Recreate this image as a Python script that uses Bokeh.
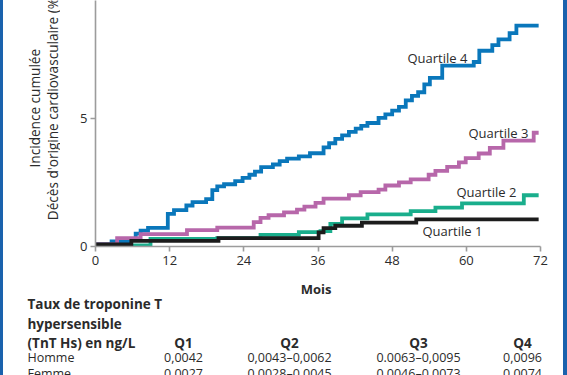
import math
from bokeh.plotting import figure
from bokeh.layouts import row, column
from bokeh.models import Label, Range1d, FixedTicker
from bokeh.core.properties import value
from bokeh.embed import file_html
from bokeh.resources import INLINE

# ---- data ----
months_q4 = [0, 2.6, 5.7, 6.5, 7.3, 8.5, 11.7, 12.7, 14.7, 15.7, 17.9, 18.9, 19.7, 20.8, 22.6,
             23.8, 24.9, 25.8, 26.8, 28.7, 29.8, 31.0, 32.9, 34.7, 36.9, 37.8, 38.8, 39.9, 41.0,
             42.1, 43.0, 44.0, 45.8, 46.9, 48.0, 49.1, 50.2, 51.2, 52.2, 53.2, 54.1, 56.1, 61.2,
             62.1, 64.2, 65.2, 67.0, 68.1]
risk_q4 = [0.08, 0.2, 0.3, 0.5, 0.62, 0.73, 1.27, 1.42, 1.6, 1.73, 1.85, 2.2, 2.35, 2.43, 2.55,
           2.68, 2.8, 2.92, 3.1, 3.2, 3.33, 3.43, 3.52, 3.64, 3.87, 4.03, 4.2, 4.34, 4.47,
           4.6, 4.71, 4.82, 5.02, 5.16, 5.3, 5.45, 5.7, 5.88, 6.02, 6.33, 6.58, 7.06, 7.2,
           7.64, 7.86, 8.08, 8.33, 8.62]

months_q3 = [0, 3.5, 7.3, 14.8, 19.7, 25.6, 26.7, 28.0, 30.5, 32.6, 33.8, 35.6, 36.9, 41.0,
             42.9, 45.8, 46.9, 49.1, 51.0, 53.9, 55.0, 56.9, 58.8, 59.9, 62.0, 63.8, 66.0, 70.9]
risk_q3 = [0.08, 0.33, 0.48, 0.64, 0.74, 0.95, 1.12, 1.22, 1.33, 1.44, 1.56, 1.7, 1.87, 2.0,
           2.12, 2.22, 2.38, 2.5, 2.62, 2.8, 2.95, 3.11, 3.28, 3.45, 3.63, 3.85, 4.13, 4.44]

months_q2 = [0, 8.9, 19.7, 26.7, 32.9, 36.4, 38.0, 39.9, 44.0, 51.0, 55.0, 59.3, 69.3]
risk_q2 = [0.04, 0.3, 0.33, 0.45, 0.56, 0.6, 0.88, 1.1, 1.25, 1.38, 1.52, 1.68, 2.0]

months_q1 = [0, 5.8, 19.9, 36.1, 36.9, 38.8, 43.1, 51.9]
risk_q1 = [0.08, 0.22, 0.33, 0.55, 0.72, 0.81, 0.93, 1.06]

END_MONTH = 71.7

x_ticks = [0, 12, 24, 36, 48, 60, 72]
y_ticks = [0, 5]

quartile_names = ["Quartile 4", "Quartile 3", "Quartile 2", "Quartile 1"]
y_title = ["Incidence cumulée", "Décès d'origine cardiovasculaire (%)"]
x_title = "Mois"

table_title = ["Taux de troponine T", "hypersensible", "(TnT Hs) en ng/L"]
table_headers = ["Q1", "Q2", "Q3", "Q4"]
row_labels = ["Homme", "Femme"]
homme_values = ["0,0042", "0,0043\u20130,0062", "0.0063\u20130,0095", "0,0096"]
femme_values = ["0,0027", "0,0028\u20130,0045", "0.0046\u20130,0073", "0,0074"]

# ---- styling / layout ----
FONT = "Open Sans"
TXT = "#2b2b2b"
AXC = "#9c9c9c"
EDGE = "#1a62ad"
colors = {"q4": "#0a77bb", "q3": "#b767aa", "q2": "#1aae8c", "q1": "#1c1c1c"}

W, H = 567, 375
LEFT_W = 60            # left strip holding the y title
TOP_H = 280            # height of chart row
FRAME_L, FRAME_R, FRAME_B = 95, 540, 246
Y_END = 9.6

# ---------- main chart ----------
p = figure(width=W - LEFT_W, height=TOP_H, output_backend="svg", toolbar_location=None,
           x_range=Range1d(0, 72), y_range=Range1d(0, Y_END),
           min_border_left=FRAME_L - LEFT_W, min_border_right=W - FRAME_R,
           min_border_top=0, min_border_bottom=TOP_H - FRAME_B)
p.outline_line_color = None
p.grid.visible = False
p.background_fill_color = "white"
p.border_fill_color = None
p.styles = {"background": "white", "box-shadow": f"inset -4px 0 0 {EDGE}"}

fw = FRAME_R - FRAME_L
fh = FRAME_B
def mx(px):
    return (px - FRAME_L) / fw * 72
def vy(py):
    return (fh - py) / fh * Y_END

for ax in (p.xaxis, p.yaxis):
    ax.axis_line_color = AXC
    ax.axis_line_width = 1.6
    ax.major_tick_line_color = AXC
    ax.major_tick_line_width = 1.6
    ax.major_tick_in = 0
    ax.major_tick_out = 5
    ax.minor_tick_line_color = None
    ax.major_label_text_font = FONT
    ax.major_label_text_font_size = "13px"
    ax.major_label_text_color = TXT
    ax.major_label_standoff = 3
p.xaxis.major_label_standoff = 4

p.xaxis.ticker = FixedTicker(ticks=x_ticks)
p.yaxis.ticker = FixedTicker(ticks=y_ticks)

series = [("q4", months_q4, risk_q4), ("q3", months_q3, risk_q3),
          ("q2", months_q2, risk_q2), ("q1", months_q1, risk_q1)]
for key, xs, ys in series:
    p.step(x=list(xs) + [END_MONTH], y=list(ys) + [ys[-1]], mode="after",
           line_color=colors[key], line_width=3.8, line_join="miter")

qpos = [(407, 57), (468, 132), (456, 191), (422, 230)]
for name, (px, py) in zip(quartile_names, qpos):
    p.add_layout(Label(x=mx(px), y=vy(py), text=name, text_font=FONT,
                       text_font_size="13px", text_color=TXT,
                       text_align="left", text_baseline="middle"))

# ---------- helper for text-only panels (pixel coordinates, y downward) ----------
def blank(width, height, y_top, x_left):
    f = figure(width=width, height=height, output_backend="svg", toolbar_location=None,
               x_range=Range1d(x_left, x_left + width),
               y_range=Range1d(y_top + height, y_top), min_border=0)
    f.axis.visible = False
    f.grid.visible = False
    f.outline_line_color = None
    f.background_fill_color = None
    f.border_fill_color = None
    return f

# ---------- left strip: y title (rotated, reading upwards from its start) ----------
lf = blank(LEFT_W, TOP_H, 0, 0)
lf.styles = {"background": "white", "box-shadow": f"inset 3px 0 0 {EDGE}"}
lf.text(x=[34, 52], y=[190, 250], text=y_title, angle=math.pi / 2,
        text_font=value(FONT), text_font_size="13.6px", text_color=TXT,
        text_align="left", text_baseline="middle")

# ---------- bottom: x title + table ----------
tf = blank(W, H - TOP_H, TOP_H, 0)
tf.styles = {"background": "white",
             "box-shadow": f"inset 3px 0 0 {EDGE}, inset -4px 0 0 {EDGE}"}
tf.text(x=[(FRAME_L + FRAME_R) / 2 - 2], y=[288], text=[x_title],
        text_font=value(FONT), text_font_size="13px", text_font_style="bold",
        text_color=TXT, text_align="center", text_baseline="middle")
tf.text(x=[27, 27, 27], y=[303, 323, 342], text=table_title,
        text_font=value(FONT), text_font_size="13.5px", text_font_style="bold",
        text_color=TXT, text_align="left", text_baseline="middle")
col_x = [183, 289, 418, 522]
tf.text(x=col_x, y=[342] * 4, text=table_headers,
        text_font=value(FONT), text_font_size="13.5px", text_font_style="bold",
        text_color=TXT, text_align="center", text_baseline="middle")
tf.text(x=[27, 27], y=[357, 373], text=row_labels,
        text_font=value(FONT), text_font_size="12.5px",
        text_color=TXT, text_align="left", text_baseline="middle")
tf.text(x=col_x + col_x, y=[357] * 4 + [373] * 4, text=homme_values + femme_values,
        text_font=value(FONT), text_font_size="12.5px",
        text_color=TXT, text_align="center", text_baseline="middle")

layout = column(row(lf, p, spacing=0), tf, spacing=0)
open("out.html", "w").write(file_html(layout, INLINE))
